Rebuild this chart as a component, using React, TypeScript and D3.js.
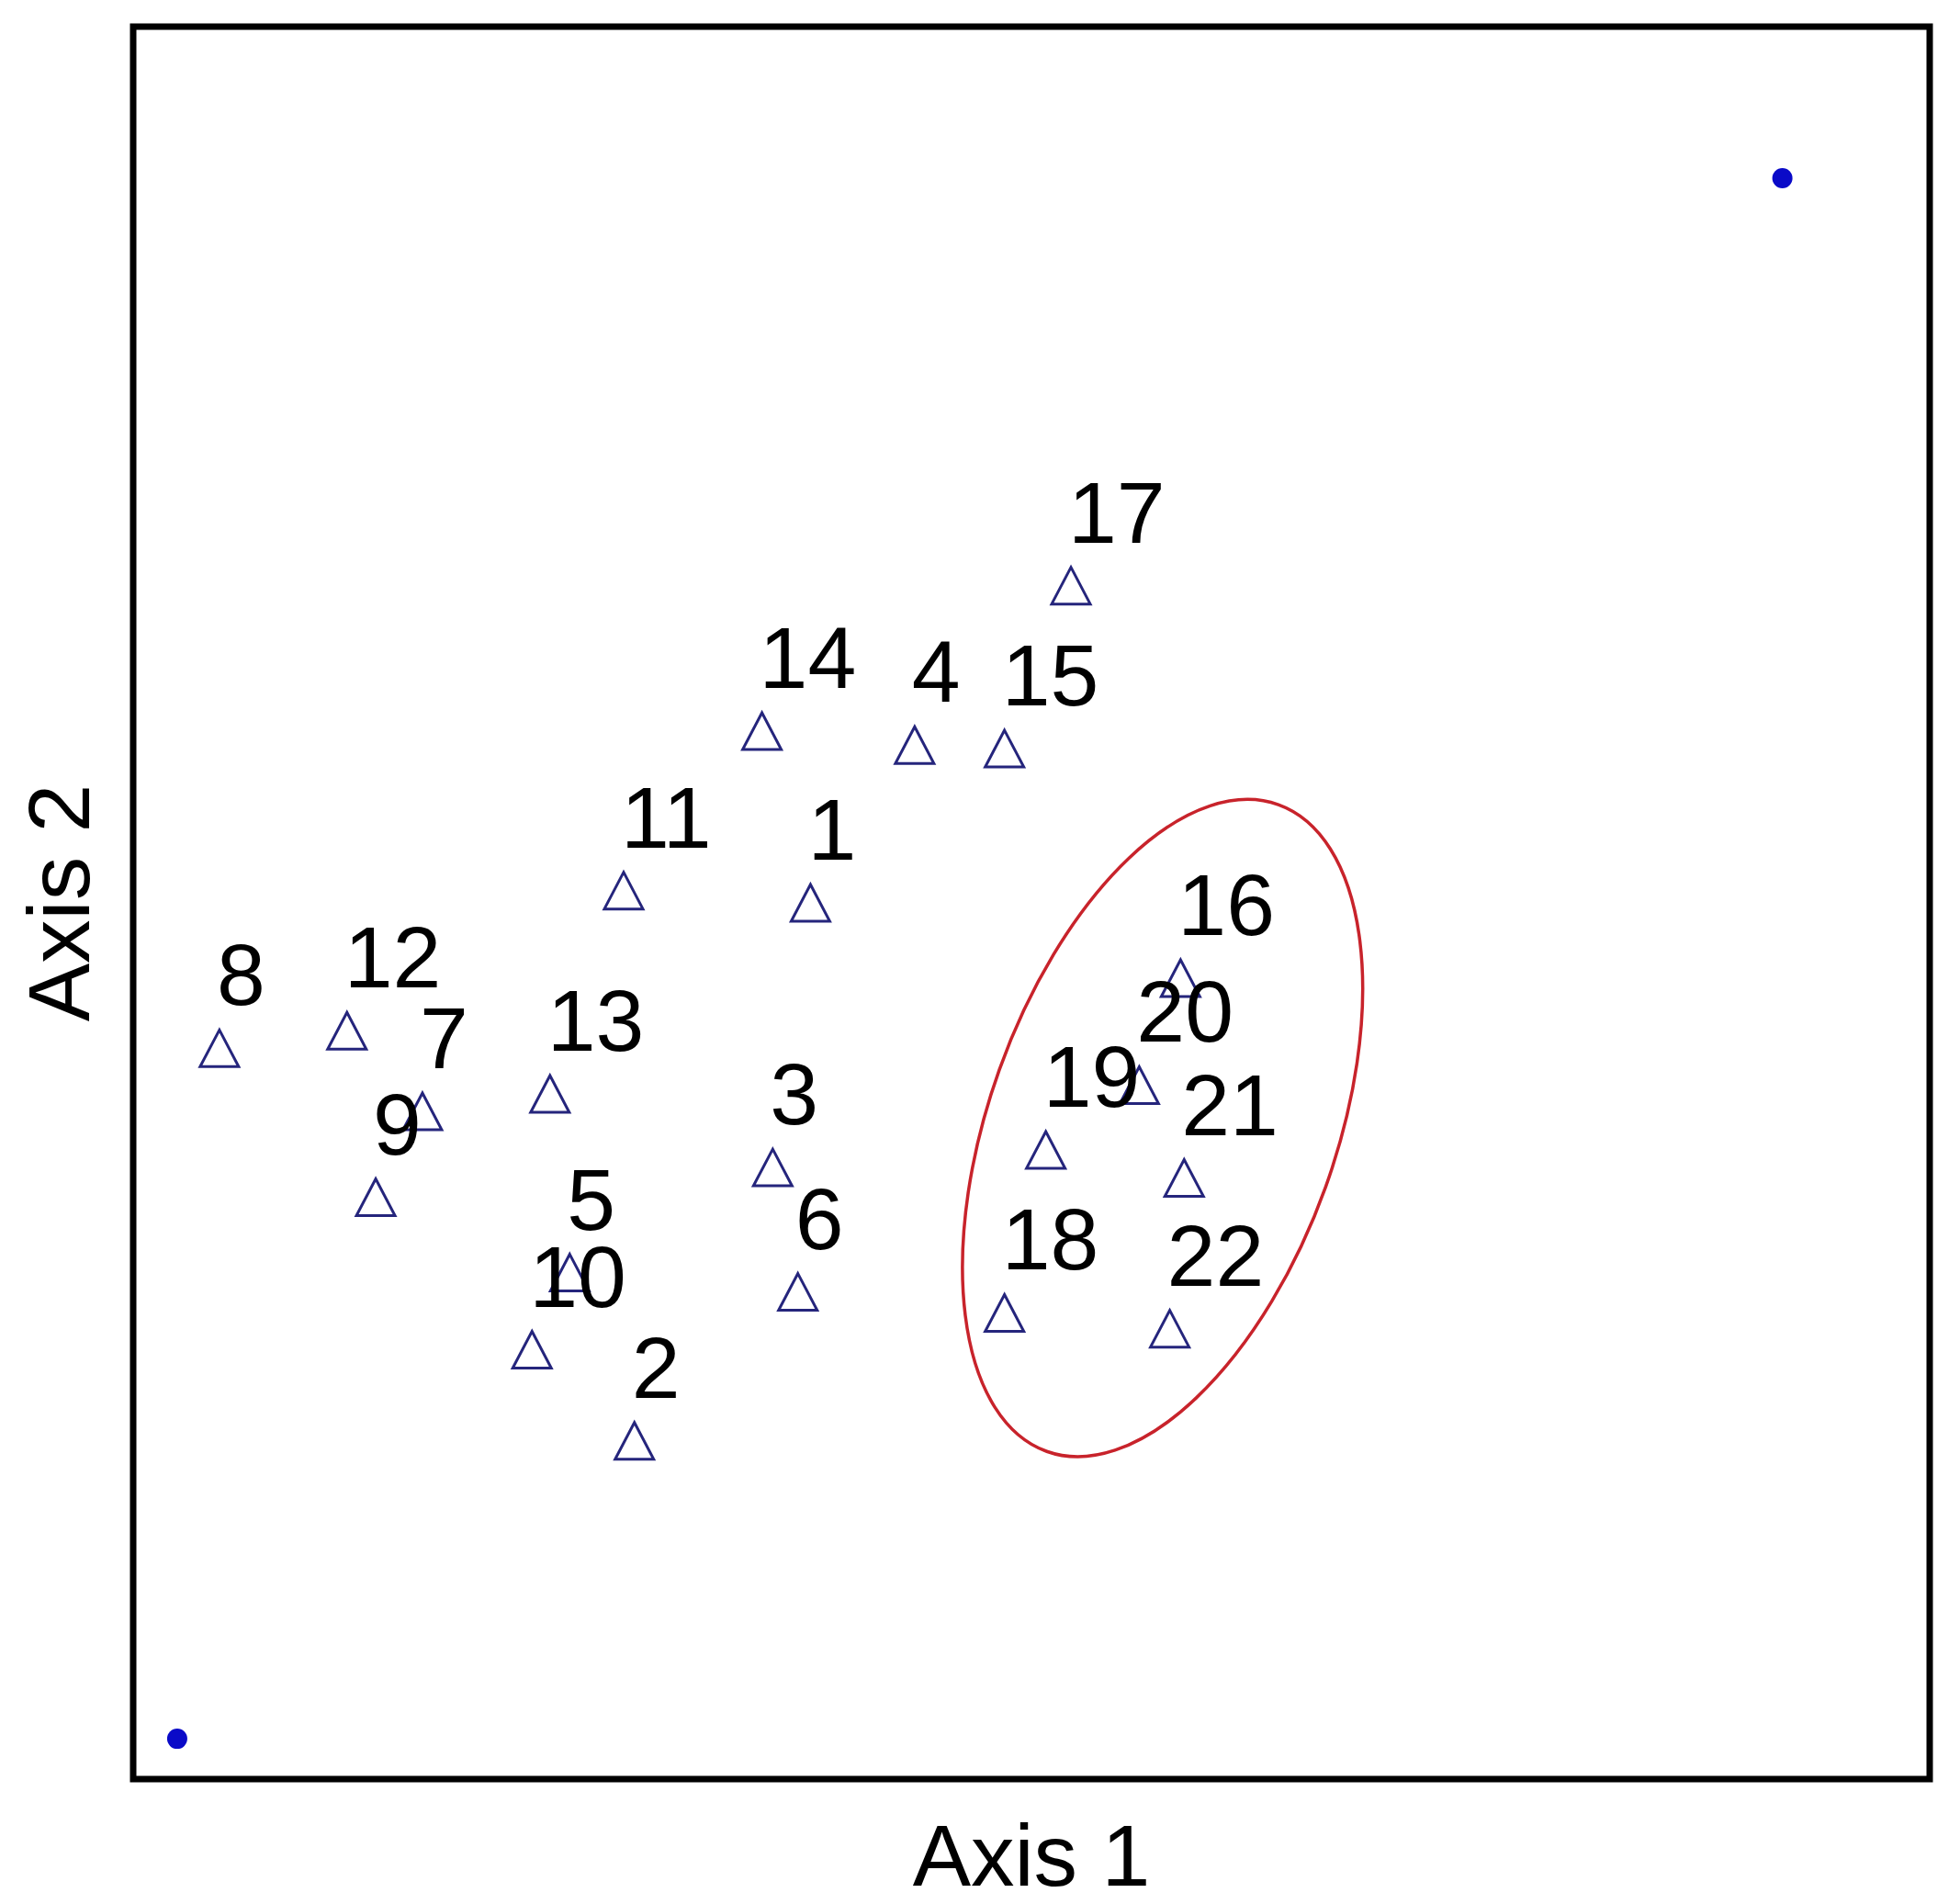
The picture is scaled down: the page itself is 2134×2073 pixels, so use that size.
import React from "react";
import * as d3 from "d3";

// Site scores (arbitrary ordination units, 0-100 frame)
const siteLabels = ["1","2","3","4","5","6","7","8","9","10","11","12","13","14","15","16","17","18","19","20","21","22"];
const axis1 = [37.7,27.9,35.6,43.5,24.3,37.0,16.1,4.8,13.5,22.2,27.3,11.9,23.2,35.0,48.5,58.3,52.2,48.5,50.8,56.0,58.5,57.7];
const axis2 = [50.0,19.3,34.9,59.0,28.9,27.8,38.1,41.7,33.2,24.5,50.7,42.7,39.1,59.8,58.8,45.7,68.1,26.6,35.9,39.6,34.3,25.7];

// Reference points (blue dots)
const refX = [91.8, 2.45];
const refY = [91.35, 2.3];

// Grouping ellipse (center, semi-axes in data units, tilt in degrees)
const ellipseCenter = [57.3, 37.15];
const ellipseRadii = [9.65, 19.6];
const ellipseTilt = 19.7;

const axisTitles = ["Axis 1", "Axis 2"];

const W = 2134, H = 2073;
const frame = { left: 145, top: 29, right: 2101, bottom: 1937 };

export default function App() {
  const x = d3.scaleLinear().domain([0, 100]).range([frame.left, frame.right]);
  const y = d3.scaleLinear().domain([0, 100]).range([frame.bottom, frame.top]);
  const pxX = (v: number) => x(v) - x(0);
  const pxY = (v: number) => y(0) - y(v);

  const tri = (cx: number, cy: number) => {
    const p = d3.path();
    p.moveTo(cx, cy - 20);
    p.lineTo(cx + 21, cy + 20);
    p.lineTo(cx - 21, cy + 20);
    p.closePath();
    return p.toString();
  };

  const font = "'Liberation Sans', Arial, sans-serif";
  const ecx = x(ellipseCenter[0]);
  const ecy = y(ellipseCenter[1]);

  return (
    <svg width={W} height={H} style={{ position: "absolute", left: 0, top: 0, display: "block", background: "#fff" }}>
      <rect x={0} y={0} width={W} height={H} fill="#fff" />
      <rect x={frame.left} y={frame.top} width={frame.right - frame.left} height={frame.bottom - frame.top}
        fill="none" stroke="#000" strokeWidth={7} />
      <ellipse cx={ecx} cy={ecy} rx={pxX(ellipseRadii[0])} ry={pxY(ellipseRadii[1])}
        transform={`rotate(${ellipseTilt} ${ecx} ${ecy})`} fill="none" stroke="#c8232b" strokeWidth={3.5} />
      {refX.map((v, i) => (
        <circle key={"r" + i} cx={x(v)} cy={y(refY[i])} r={11} fill="#0a0ac8" />
      ))}
      {siteLabels.map((lab, i) => (
        <path key={"t" + i} d={tri(x(axis1[i]), y(axis2[i]))} fill="none" stroke="#25257c" strokeWidth={3} strokeLinejoin="miter" />
      ))}
      {siteLabels.map((lab, i) => (
        <text key={"l" + i} x={x(axis1[i]) - 3} y={y(axis2[i]) - 47} fontFamily={font} fontSize={95} fill="#000">{lab}</text>
      ))}
      <text x={(frame.left + frame.right) / 2} y={2053} textAnchor="middle" fontFamily={font} fontSize={95} fill="#000">{axisTitles[0]}</text>
      <text transform={`translate(97, ${(frame.top + frame.bottom) / 2}) rotate(-90)`} textAnchor="middle" fontFamily={font} fontSize={95} fill="#000">{axisTitles[1]}</text>
    </svg>
  );
}
